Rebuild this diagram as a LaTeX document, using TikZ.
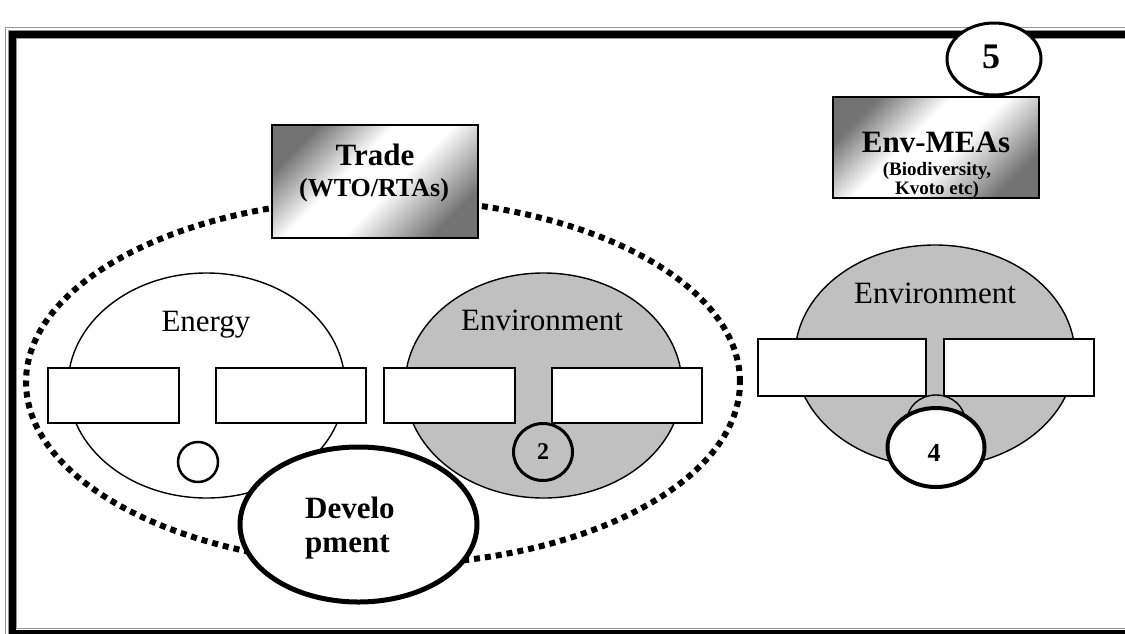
\documentclass[tikz,border=0pt]{standalone}
\usepackage{fontspec}
\setmainfont{Liberation Serif}
\usetikzlibrary{shapes.geometric}
\definecolor{envgray}{RGB}{192,192,192}
\definecolor{framegray}{RGB}{150,150,150}
\pgfdeclarehorizontalshading{boxshade}{100bp}{color(0bp)=(black!55);color(25bp)=(black!55);color(42bp)=(white);color(55bp)=(white);color(75bp)=(black!55);color(100bp)=(black!55)}
\newcommand{\fs}[1]{\fontsize{#1}{#1}\selectfont}
\begin{document}
\begin{tikzpicture}[x=1pt,y=-1pt,
  ell/.style={ellipse, draw, inner sep=0pt, line width=1.4pt},
  rectbox/.style={rectangle, draw, fill=white, inner sep=0pt, line width=1.4pt},
  titlebox/.style={rectangle, draw, line width=1.4pt, shading=boxshade, shading angle=-45, inner sep=0pt},
  numcirc/.style={ellipse, draw, fill=white, inner sep=0pt},
  dotring/.style={ellipse, draw, line width=6pt, dash pattern=on 6pt off 5pt, inner sep=0pt},
  txt/.style={inner sep=0pt, anchor=base}
]
\useasboundingbox (0,0) rectangle (1125,633);
\clip (0,0) rectangle (1125,633);
% frame
\draw[framegray, line width=1pt] (5.5,27.5) rectangle (1145,660);
\draw[black, line width=7pt] (12.5,34) rectangle (1135,633);
\draw[framegray, line width=0.8pt] (8.6,30.2) rectangle (1140,640);
\draw[framegray, line width=0.8pt] (16.4,38) rectangle (1130,628.5);
% dotted ring
\node[dotring, minimum width=714pt, minimum height=366pt] (ring) at (383,382) {};
% trade box
\node[titlebox, minimum width=206pt, minimum height=113pt] (trade) at (375,181.5) {};
\node[txt, font=\bfseries\fs{31}] (tradet) at (375,165) {Trade};
\node[txt, font=\bfseries\fs{26}] (wto) at (374,196) {(WTO/RTAs)};
% energy
\node[ell, fill=white, minimum width=277pt, minimum height=225pt] (energy) at (206.5,385.5) {};
\node[txt, font=\fs{31}] (energyt) at (206,331) {Energy};
\node[rectbox, minimum width=131pt, minimum height=55pt] (e1) at (113.5,395.5) {};
\node[rectbox, minimum width=150pt, minimum height=55pt] (e2) at (291,395.5) {};
\node[numcirc, line width=2.5pt, minimum width=40pt, minimum height=40pt] (ec) at (198,462) {};
% environment middle
\node[ell, fill=envgray, minimum width=277pt, minimum height=225pt] (env) at (543.5,385.5) {};
\node[txt, font=\fs{31}] (envt) at (542,330) {Environment};
\node[rectbox, minimum width=131pt, minimum height=55pt] (v1) at (449.5,395.5) {};
\node[rectbox, minimum width=150pt, minimum height=55pt] (v2) at (627,395.5) {};
\node[ell, line width=3pt, minimum width=59pt, minimum height=57pt] (c2) at (543,452) {};
\node[txt, font=\bfseries\fs{24}] (c2t) at (543,459) {2};
% development
\node[numcirc, line width=5pt, minimum width=237pt, minimum height=155pt] (dev) at (358.5,524.5) {};
\node[inner sep=0pt, anchor=base west, font=\bfseries\fs{31}] (devt1) at (305,518) {Develo};
\node[inner sep=0pt, anchor=base west, font=\bfseries\fs{31}] (devt2) at (305,552) {pment};
% environment right
\node[ell, fill=envgray, minimum width=280pt, minimum height=222pt] (renv) at (935,356) {};
\node[txt, font=\fs{31}] (renvt) at (935,303) {Environment};
\node[rectbox, minimum width=168pt, minimum height=57pt] (r1) at (842,367.5) {};
\node[rectbox, minimum width=150pt, minimum height=57pt] (r2) at (1019,367.5) {};
\node[ell, fill=envgray, minimum width=58pt, minimum height=52pt] (bump) at (936,421) {};
\node[numcirc, line width=4pt, minimum width=97pt, minimum height=79pt] (c4) at (936,447.5) {};
\node[txt, font=\bfseries\fs{26}] (c4t) at (934,461) {4};
% env-MEAs box
\node[titlebox, minimum width=206pt, minimum height=101pt] (mea) at (936,147.5) {};
\node[txt, font=\bfseries\fs{31}] (meat) at (936,152) {Env-MEAs};
\node[txt, font=\bfseries\fs{19}] (bio) at (937,175) {(Biodiversity,};
\node[txt, font=\bfseries\fs{19}] (kyo) at (937,194) {Kvoto etc)};
% circle 5
\node[numcirc, line width=3pt, minimum width=94pt, minimum height=72pt] (c5) at (994,59) {};
\node[txt, font=\bfseries\fs{36}] (c5t) at (991,68) {5};
\end{tikzpicture}
\end{document}
